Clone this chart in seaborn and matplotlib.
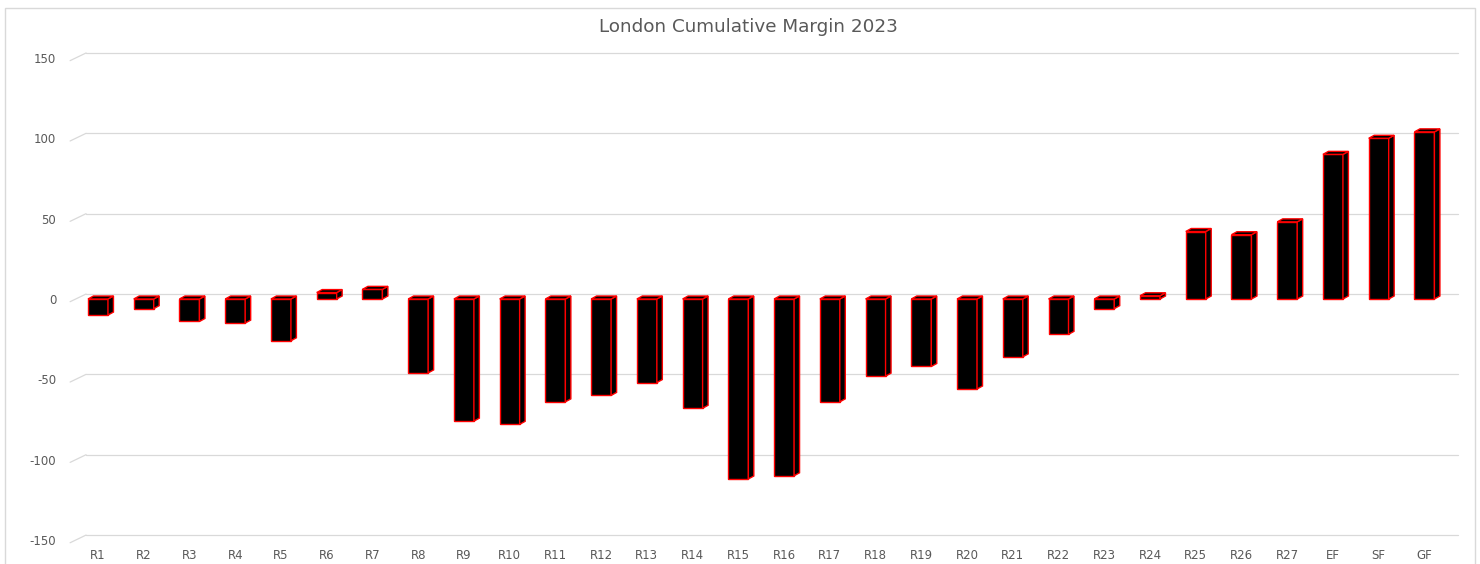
import matplotlib
matplotlib.use("Agg")
import matplotlib.pyplot as plt
import numpy as np
import pandas as pd
import seaborn as sns
from matplotlib.patches import Polygon, Rectangle
from matplotlib.lines import Line2D

# Cumulative margin after each round
rounds = ["R1", "R2", "R3", "R4", "R5", "R6", "R7", "R8", "R9", "R10",
          "R11", "R12", "R13", "R14", "R15", "R16", "R17", "R18", "R19", "R20",
          "R21", "R22", "R23", "R24", "R25", "R26", "R27", "EF", "SF", "GF"]
margin = [-10, -6, -14, -15, -26, 4, 6, -46, -76, -78,
          -64, -60, -52, -68, -112, -110, -64, -48, -42, -56,
          -36, -22, -6, 2, 42, 40, 48, 90, 100, 104]
y_ticks = [-150, -100, -50, 0, 50, 100, 150]

sns.set_theme(style="white")
plt.rcParams["font.family"] = ["DejaVu Sans"]

W, H, DPI = 1480, 564, 100
GRID = "#d9d9d9"
TEXT = "#595959"

fig = plt.figure(figsize=(W / DPI, H / DPI), dpi=DPI)
fig.patch.set_facecolor("white")

# plot plane of the column fronts (pixel geometry)
left_px, right_px = 75.1, 1447.3
zero_px, px_per_unit = 299.0, 1.607
top_px = zero_px - 150 * px_per_unit
bot_px = zero_px + 150 * px_per_unit
ax = fig.add_axes([left_px / W, 1 - bot_px / H,
                   (right_px - left_px) / W, (bot_px - top_px) / H])

df = pd.DataFrame({"round": rounds, "margin": margin})
sns.barplot(data=df, x="round", y="margin", order=rounds, color="black",
            saturation=1, width=0.437, edgecolor="red", linewidth=1.0,
            ax=ax, zorder=3)

ax.set_xlim(-0.5, len(rounds) - 0.5)
ax.set_ylim(-150, 150)
ax.set_xlabel("")
ax.set_ylabel("")
for s in ax.spines.values():
    s.set_visible(False)
ax.patch.set_alpha(0)
ax.set_yticks(y_ticks)
ax.set_yticklabels([str(v) for v in y_ticks])
ax.tick_params(axis="y", length=0, pad=13.5, labelsize=8.5, labelcolor=TEXT)
ax.tick_params(axis="x", length=0, pad=6.5, labelsize=8.5, labelcolor=TEXT)
ax.grid(False)


def to_fig(px, py):
    """display pixels (y up) -> figure fraction"""
    return px / W, py / H


# back-wall gridlines with the small perspective stub at the left
back_dx, back_dy = 11.0, 5.0
front_dx, front_dy = -5.0, -2.7
for v in y_ticks:
    (xa, ya) = ax.transData.transform((-0.5, v))
    (xb, _) = ax.transData.transform((len(rounds) - 0.5, v))
    fig.add_artist(Line2D([(xa + back_dx) / W, (xb + back_dx) / W],
                          [(ya + back_dy) / H, (ya + back_dy) / H],
                          transform=fig.transFigure, color=GRID, lw=0.9, zorder=0))
    fig.add_artist(Line2D([(xa + front_dx) / W, (xa + back_dx) / W],
                          [(ya + front_dy) / H, (ya + back_dy) / H],
                          transform=fig.transFigure, color=GRID, lw=0.9, zorder=0))

# top and side faces of every column, built from the seaborn bars
dx, dy = 5.5, 3.0
for bar in list(ax.patches):
    x0 = bar.get_x()
    w = bar.get_width()
    y = bar.get_y()
    h = bar.get_height()
    top, bottom = max(y, y + h), min(y, y + h)
    (xl, yt) = ax.transData.transform((x0, top))
    (xr, yb) = ax.transData.transform((x0 + w, bottom))
    top_face = [to_fig(xl, yt), to_fig(xr, yt), to_fig(xr + dx, yt + dy), to_fig(xl + dx, yt + dy)]
    side_face = [to_fig(xr, yt), to_fig(xr, yb), to_fig(xr + dx, yb + dy), to_fig(xr + dx, yt + dy)]
    for verts in (side_face, top_face):
        fig.add_artist(Polygon(verts, closed=True, transform=fig.transFigure,
                               facecolor="black", edgecolor="red", lw=1.0, zorder=4))

fig.text(748 / W, 1 - 27 / H, "London Cumulative Margin 2023", ha="center",
         va="center", color=TEXT, fontsize=13.2)

# outer chart frame
fig.add_artist(Rectangle((5 / W, -0.05), 1470 / W, (564 - 8) / H + 0.05,
                         transform=fig.transFigure, fill=False,
                         edgecolor=GRID, lw=1.0, zorder=0))

fig.savefig("out.png", dpi=DPI)
